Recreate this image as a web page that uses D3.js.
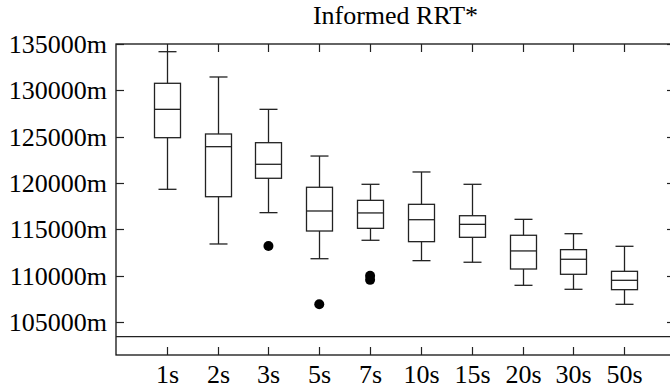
<!DOCTYPE html>
<html>
<head>
<meta charset="utf-8">
<script src="https://cdn.jsdelivr.net/npm/d3@7"></script>
</head>
<body style="margin:0;background:#fff">
<svg id="chart" width="670" height="389" style="display:block"></svg>
<script>
const categories = ['1s', '2s', '3s', '5s', '7s', '10s', '15s', '20s', '30s', '50s'];
const whiskerHigh = [134170, 131440, 127950, 122910, 119860, 121190, 119860, 116080, 114530, 113170];
const q3Values    = [130760, 125290, 124350, 119540, 118130, 117700, 116470, 114360, 112810, 110470];
const medians     = [127950, 123920, 122020, 116980, 116770, 116040, 115540, 112670, 111770, 109500];
const q1Values    = [124890, 118520, 120510, 114820, 115110, 113670, 114140, 110720, 110150, 108490];
const whiskerLow  = [119320, 113420, 116800, 111830, 113820, 111620, 111450, 108960, 108530, 106910];
const outliers = [
    { cat: '3s', value: 113200 },
    { cat: '5s', value: 106910 },
    { cat: '7s', value: 110000 },
    { cat: '7s', value: 109550 }
];
const referenceValue = 103420;
const yTicks = [105000, 110000, 115000, 120000, 125000, 130000, 135000];
const title = 'Informed RRT*';

const svg = d3.select('#chart');
const margin = { left: 116, top: 44, right: 675, bottom: 355 };
const stroke = '#222';
const fontSize = 26;
const fontFamily = '"Liberation Serif", "Times New Roman", serif';

const x = d3.scalePoint()
    .domain(categories)
    .range([margin.left, margin.right])
    .padding(1);

const y = d3.scaleLinear()
    .domain([101440, 135000])
    .range([margin.bottom, margin.top]);

const boxW = 26;
const capW = 18;
const tickLen = 8;

function label(sel) {
    return sel.style('font-family', fontFamily)
        .style('font-size', fontSize + 'px')
        .style('fill', '#000');
}

// frame
svg.append('rect')
    .attr('x', margin.left).attr('y', margin.top)
    .attr('width', margin.right - margin.left)
    .attr('height', margin.bottom - margin.top)
    .attr('fill', 'none')
    .attr('stroke', '#111')
    .attr('stroke-width', 1.3);

// ticks on all four sides, pointing inward
yTicks.forEach(t => {
    const yy = Math.round(y(t)) + 0.5;
    svg.append('line')
        .attr('x1', margin.left).attr('x2', margin.left + tickLen)
        .attr('y1', yy).attr('y2', yy)
        .attr('stroke', stroke).attr('stroke-width', 1.2);
    svg.append('line')
        .attr('x1', margin.right - tickLen).attr('x2', margin.right)
        .attr('y1', yy).attr('y2', yy)
        .attr('stroke', stroke).attr('stroke-width', 1.2);
    label(svg.append('text')
        .attr('x', margin.left - 9)
        .attr('y', yy)
        .attr('text-anchor', 'end')
        .attr('dominant-baseline', 'central'))
        .text(t + 'm');
});

categories.forEach(c => {
    const xx = Math.round(x(c)) + 0.5;
    svg.append('line')
        .attr('x1', xx).attr('x2', xx)
        .attr('y1', margin.bottom - tickLen).attr('y2', margin.bottom)
        .attr('stroke', stroke).attr('stroke-width', 1.2);
    svg.append('line')
        .attr('x1', xx).attr('x2', xx)
        .attr('y1', margin.top).attr('y2', margin.top + tickLen)
        .attr('stroke', stroke).attr('stroke-width', 1.2);
    label(svg.append('text')
        .attr('x', xx)
        .attr('y', 383)
        .attr('text-anchor', 'middle'))
        .text(c);
});

// reference line
svg.append('line')
    .attr('x1', margin.left).attr('x2', margin.right)
    .attr('y1', y(referenceValue)).attr('y2', y(referenceValue))
    .attr('stroke', stroke).attr('stroke-width', 1.2);

// boxes
categories.forEach((c, i) => {
    const cx = Math.round(x(c)) + 0.5;
    const g = svg.append('g')
        .attr('stroke', stroke)
        .attr('stroke-width', 1.3)
        .attr('fill', 'none');

    g.append('line')
        .attr('x1', cx).attr('x2', cx)
        .attr('y1', y(whiskerHigh[i])).attr('y2', y(q3Values[i]));
    g.append('line')
        .attr('x1', cx).attr('x2', cx)
        .attr('y1', y(q1Values[i])).attr('y2', y(whiskerLow[i]));
    g.append('line')
        .attr('x1', cx - capW / 2).attr('x2', cx + capW / 2)
        .attr('y1', y(whiskerHigh[i])).attr('y2', y(whiskerHigh[i]));
    g.append('line')
        .attr('x1', cx - capW / 2).attr('x2', cx + capW / 2)
        .attr('y1', y(whiskerLow[i])).attr('y2', y(whiskerLow[i]));
    g.append('rect')
        .attr('x', cx - boxW / 2)
        .attr('y', y(q3Values[i]))
        .attr('width', boxW)
        .attr('height', y(q1Values[i]) - y(q3Values[i]));
    g.append('line')
        .attr('x1', cx - boxW / 2).attr('x2', cx + boxW / 2)
        .attr('y1', y(medians[i])).attr('y2', y(medians[i]));
});

// outliers
svg.selectAll('circle.outlier')
    .data(outliers)
    .join('circle')
    .attr('class', 'outlier')
    .attr('cx', d => x(d.cat))
    .attr('cy', d => y(d.value))
    .attr('r', 5)
    .attr('fill', '#000');

// title
label(svg.append('text')
    .attr('x', (margin.left + margin.right) / 2)
    .attr('y', 24)
    .attr('text-anchor', 'middle'))
    .text(title);
</script>
</body>
</html>
